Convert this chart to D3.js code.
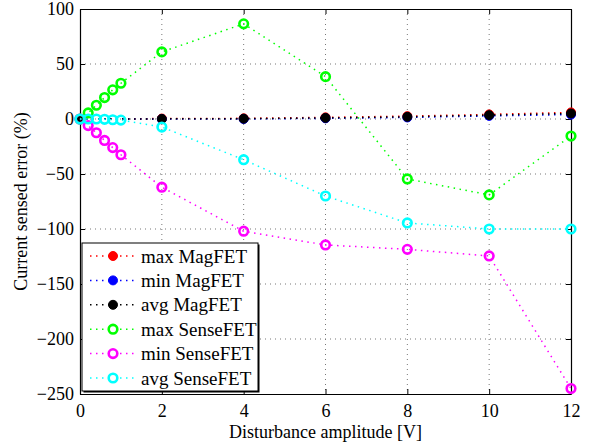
<!DOCTYPE html>
<html>
<head>
<meta charset="utf-8">
<script src="https://cdn.jsdelivr.net/npm/d3@7"></script>
<style>
  body { margin: 0; background: #fff; }
  svg { font-family: "Liberation Serif", "Times New Roman", serif; }
</style>
</head>
<body>
<div id="chart"></div>
<script>
// disturbance amplitude [V]
var xsMag   = [0, 2, 4, 6, 8, 10, 12];
var xsSense = [0, 0.2, 0.4, 0.6, 0.8, 1, 2, 4, 6, 8, 10, 12];

// current sensed error (%)
var maxMag   = [0, 0.4, 0.6, 1.5, 2.6, 4.2, 6];
var minMag   = [0, -0.1, 0, 0.6, 1.4, 2.8, 4];
var avgMag   = [0, 0.1, 0.3, 1, 2, 3.5, 5];
var maxSense = [0, 5.5, 12.5, 19.5, 26.5, 32.5, 61, 86.5, 38.5, -54.5, -69, -15.5];
var minSense = [0, -6, -12.5, -19.5, -26, -32.5, -62, -102, -114.5, -118.5, -124.5, -245];
var avgSense = [0, 0, 0, -0.3, -0.7, -1, -7.3, -37, -70, -94.5, -100, -100];

var xTicks = [0, 2, 4, 6, 8, 10, 12];
var yTicks = [100, 50, 0, -50, -100, -150, -200, -250];

var series = [
  {name: "max MagFET",   xs: xsMag,   values: maxMag,   color: "#ff0000", filled: true},
  {name: "min MagFET",   xs: xsMag,   values: minMag,   color: "#0000ff", filled: true},
  {name: "avg MagFET",   xs: xsMag,   values: avgMag,   color: "#000000", filled: true},
  {name: "max SenseFET", xs: xsSense, values: maxSense, color: "#00ff00", filled: false},
  {name: "min SenseFET", xs: xsSense, values: minSense, color: "#ff00ff", filled: false},
  {name: "avg SenseFET", xs: xsSense, values: avgSense, color: "#00ffff", filled: false}
];

var W = 590, H = 445;
var margin = {top: 9, right: 19, bottom: 51, left: 80};
var width = W - margin.left - margin.right,
    height = H - margin.top - margin.bottom;

var svg = d3.select("#chart").append("svg")
    .attr("width", W)
    .attr("height", H);

var g = svg.append("g")
    .attr("transform", "translate(" + margin.left + "," + margin.top + ")");

var x = d3.scaleLinear().domain([0, 12]).range([0, width]);
var y = d3.scaleLinear().domain([-250, 100]).range([height, 0]);

// grid
g.append("g").selectAll("line.gx")
    .data(xTicks.slice(1, -1))
  .enter().append("line")
    .attr("x1", function(d){ return x(d); })
    .attr("x2", function(d){ return x(d); })
    .attr("y1", 0).attr("y2", height)
    .style("stroke", "#777").style("stroke-dasharray", "1,4");
g.append("g").selectAll("line.gy")
    .data(yTicks.slice(1, -1))
  .enter().append("line")
    .attr("y1", function(d){ return y(d); })
    .attr("y2", function(d){ return y(d); })
    .attr("x1", 0).attr("x2", width)
    .style("stroke", "#777").style("stroke-dasharray", "1,4");

// axes, matlab style: inward ticks on all four sides
var fs = "18px";
var xa = g.append("g")
    .attr("transform", "translate(0," + height + ")")
    .call(d3.axisBottom(x).tickValues(xTicks).tickSizeInner(-5).tickSizeOuter(0).tickPadding(10).tickFormat(d3.format("d")));
var xt = g.append("g")
    .call(d3.axisTop(x).tickValues(xTicks).tickSizeInner(-5).tickSizeOuter(0).tickFormat(""));
var ya = g.append("g")
    .call(d3.axisLeft(y).tickValues(yTicks).tickSizeInner(-5).tickSizeOuter(0).tickPadding(6)
      .tickFormat(function(d){ return d < 0 ? "\u2212" + (-d) : d; }));
var yr = g.append("g")
    .attr("transform", "translate(" + width + ",0)")
    .call(d3.axisRight(y).tickValues(yTicks).tickSizeInner(-5).tickSizeOuter(0).tickFormat(""));
[xa, xt, ya, yr].forEach(function(a){
  a.selectAll("path").style("stroke", "#000").style("stroke-width", 1.2);
  a.selectAll("line").style("stroke", "#000");
  a.selectAll("text").style("font-family", "Liberation Serif").style("font-size", fs).style("fill", "#000");
});

// series
series.forEach(function(s){
  var line = d3.line()
      .x(function(d, i){ return x(s.xs[i]); })
      .y(function(d){ return y(d); });
  g.append("path")
      .datum(s.values)
      .attr("d", line)
      .style("fill", "none")
      .style("stroke", s.color)
      .style("stroke-width", 1.5)
      .style("stroke-dasharray", "1.5,4.5");
  g.selectAll(null)
      .data(s.values)
    .enter().append("circle")
      .attr("cx", function(d, i){ return x(s.xs[i]); })
      .attr("cy", function(d){ return y(d); })
      .attr("r", s.filled ? 4.5 : 4.3)
      .style("fill", s.filled ? s.color : "none")
      .style("stroke", s.color)
      .style("stroke-width", s.filled ? 1 : 2.6);
});

// legend
var lg = svg.append("g").attr("transform", "translate(82,243)");
var lw = 176, lh = 148;
lg.append("rect").attr("x", 1.5).attr("y", 1.5).attr("width", lw).attr("height", lh)
    .style("fill", "#000");
lg.append("rect").attr("width", lw).attr("height", lh)
    .style("fill", "#fff").style("stroke", "#000").style("stroke-width", 1);
series.forEach(function(s, i){
  var ly = 13 + i * 24.4;
  var e = lg.append("g").attr("transform", "translate(0," + ly + ")");
  e.append("line").attr("x1", 8).attr("x2", 52).attr("y1", 0).attr("y2", 0)
      .style("stroke", s.color).style("stroke-width", 1.5).style("stroke-dasharray", "1.5,4.5");
  e.append("circle").attr("cx", 31).attr("cy", 0).attr("r", s.filled ? 4.5 : 4.3)
      .style("fill", s.filled ? s.color : "#fff")
      .style("stroke", s.color).style("stroke-width", s.filled ? 1 : 2.6);
  e.append("text").attr("x", 59).attr("y", 6.5)
      .style("font-size", "19px").text(s.name);
});

// labels
svg.append("text")
    .attr("x", margin.left + width / 2).attr("y", 438)
    .attr("text-anchor", "middle")
    .style("font-size", fs)
    .text("Disturbance amplitude [V]");
svg.append("text")
    .attr("transform", "translate(27," + (margin.top + height / 2) + ") rotate(-90)")
    .attr("text-anchor", "middle")
    .style("font-size", fs)
    .text("Current sensed error (%)");
</script>
</body>
</html>
